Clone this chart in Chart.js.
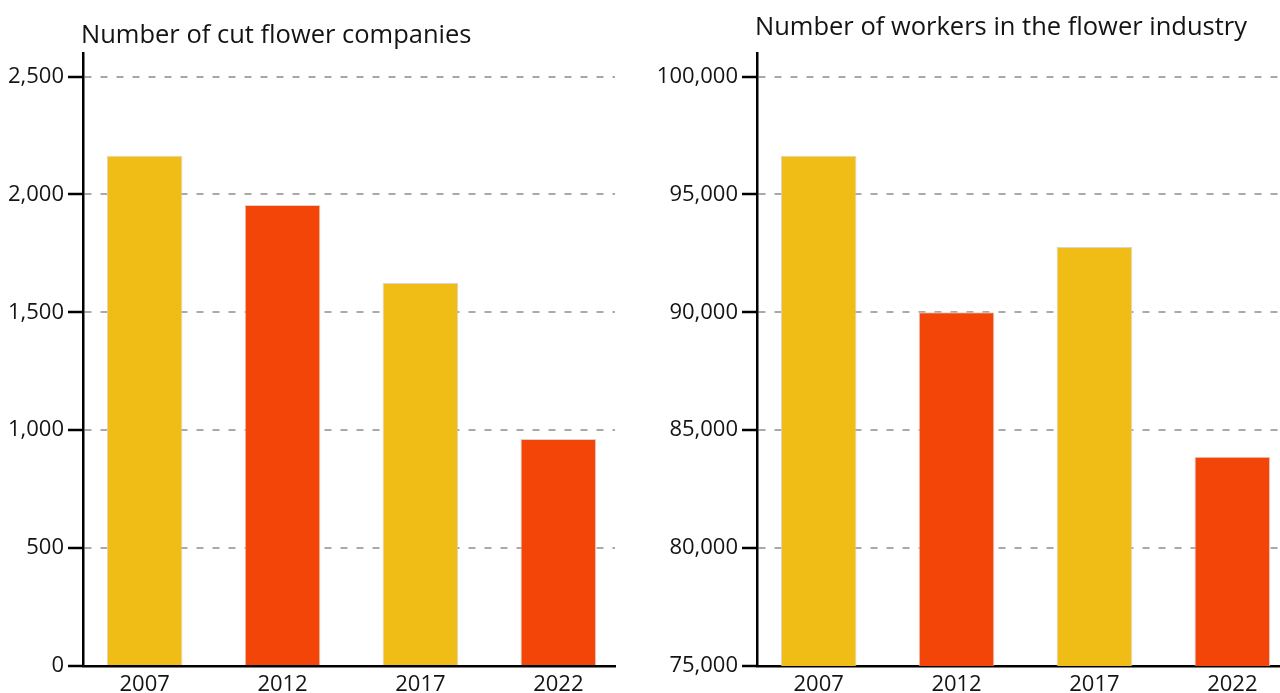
<!DOCTYPE html>
<html>
<head>
<meta charset="utf-8">
<title>Cut flower industry</title>
<script src="https://cdn.jsdelivr.net/npm/chart.js@4.4.1/dist/chart.umd.min.js"></script>
<style>
  html, body { margin: 0; padding: 0; background: #fff; overflow: hidden; }
  body { width: 1280px; height: 693px; position: relative; }
  canvas { position: absolute; top: 0; }
  #companies { left: 0; }
  #workers { left: 640px; }
</style>
</head>
<body>
<canvas id="companies" width="640" height="693"></canvas>
<canvas id="workers" width="660" height="693"></canvas>
<script>
const years = ['2007', '2012', '2017', '2022'];
const companies = [2164, 1955, 1624, 963];
const workers = [96640, 90000, 92770, 83870];
const barColors = ['#F0BC16', '#F24507', '#F0BC16', '#F24507'];
const companyTicks = [0, 500, 1000, 1500, 2000, 2500];
const workerTicks = [75000, 80000, 85000, 90000, 95000, 100000];

const FONT = '"Open Sans", "Noto Sans", sans-serif';
const TEXT = '#141414';

// title sits at the left edge of the plot, above the axis
const sideTitle = {
	id: 'sideTitle',
	afterDraw(chart, args, opts) {
		const ctx = chart.ctx;
		ctx.save();
		ctx.font = opts.size + 'px ' + FONT;
		ctx.fillStyle = TEXT;
		ctx.textAlign = 'left';
		ctx.textBaseline = 'alphabetic';
		ctx.fillText(opts.text, chart.chartArea.left - 2, opts.baseline);
		ctx.restore();
	}
};

function barChart(id, title, values, yTicks, cfg) {
	return new Chart(document.getElementById(id), {
		type: 'bar',
		data: {
			datasets: [{
				data: values.map(function(v, i) { return {x: i, y: v}; }),
				backgroundColor: barColors,
				borderColor: 'rgba(215,205,195,0.9)',
				borderWidth: 1,
				categoryPercentage: 1,
				barPercentage: 0.548
			}]
		},
		plugins: [sideTitle],
		options: {
			responsive: false,
			animation: false,
			events: [],
			layout: {
				padding: {top: 53, right: cfg.padRight, left: 0, bottom: 0}
			},
			plugins: {
				legend: {display: false},
				tooltip: {enabled: false},
				sideTitle: {text: title, baseline: cfg.titleBaseline, size: 25.5}
			},
			scales: {
				x: {
					type: 'linear',
					offset: false,
					min: -0.447,
					max: 3.411,
					afterBuildTicks: function(axis) {
						axis.ticks = years.map(function(y, i) { return {value: i}; });
					},
					afterFit: function(axis) { axis.height = 27; },
					grid: {display: false, drawTicks: false, offset: false},
					border: {display: true, color: '#000', width: 2.5},
					ticks: {
						autoSkip: false,
						maxRotation: 0,
						padding: 6,
						color: TEXT,
						font: {family: FONT, size: 22},
						callback: function(value) { return years[value]; }
					}
				},
				y: {
					min: cfg.min,
					max: cfg.max,
					afterBuildTicks: function(axis) {
						axis.ticks = yTicks.map(function(v) { return {value: v}; });
					},
					afterFit: function(axis) { axis.width = cfg.axisWidth; },
					grid: {
						color: function(ctx) { return ctx.index === 0 ? 'rgba(0,0,0,0)' : '#a9a9a9'; },
						lineWidth: 2,
						tickColor: '#000',
						tickWidth: 2.5,
						tickLength: 15,
						tickBorderDash: []
					},
					border: {display: true, color: '#000', width: 2.5, dash: [7, 9]},
					ticks: {
						padding: 4,
						color: TEXT,
						font: {family: FONT, size: 22},
						callback: function(value) { return value.toLocaleString('en-US'); }
					}
				}
			}
		}
	});
}

barChart('companies', 'Number of cut flower companies', companies, companyTicks, {
	min: 0, max: 2600, axisWidth: 83, padRight: 25, titleBaseline: 43
});
barChart('workers', 'Number of workers in the flower industry', workers, workerTicks, {
	min: 75000, max: 101000, axisWidth: 117, padRight: 11, titleBaseline: 35
});
</script>
</body>
</html>
